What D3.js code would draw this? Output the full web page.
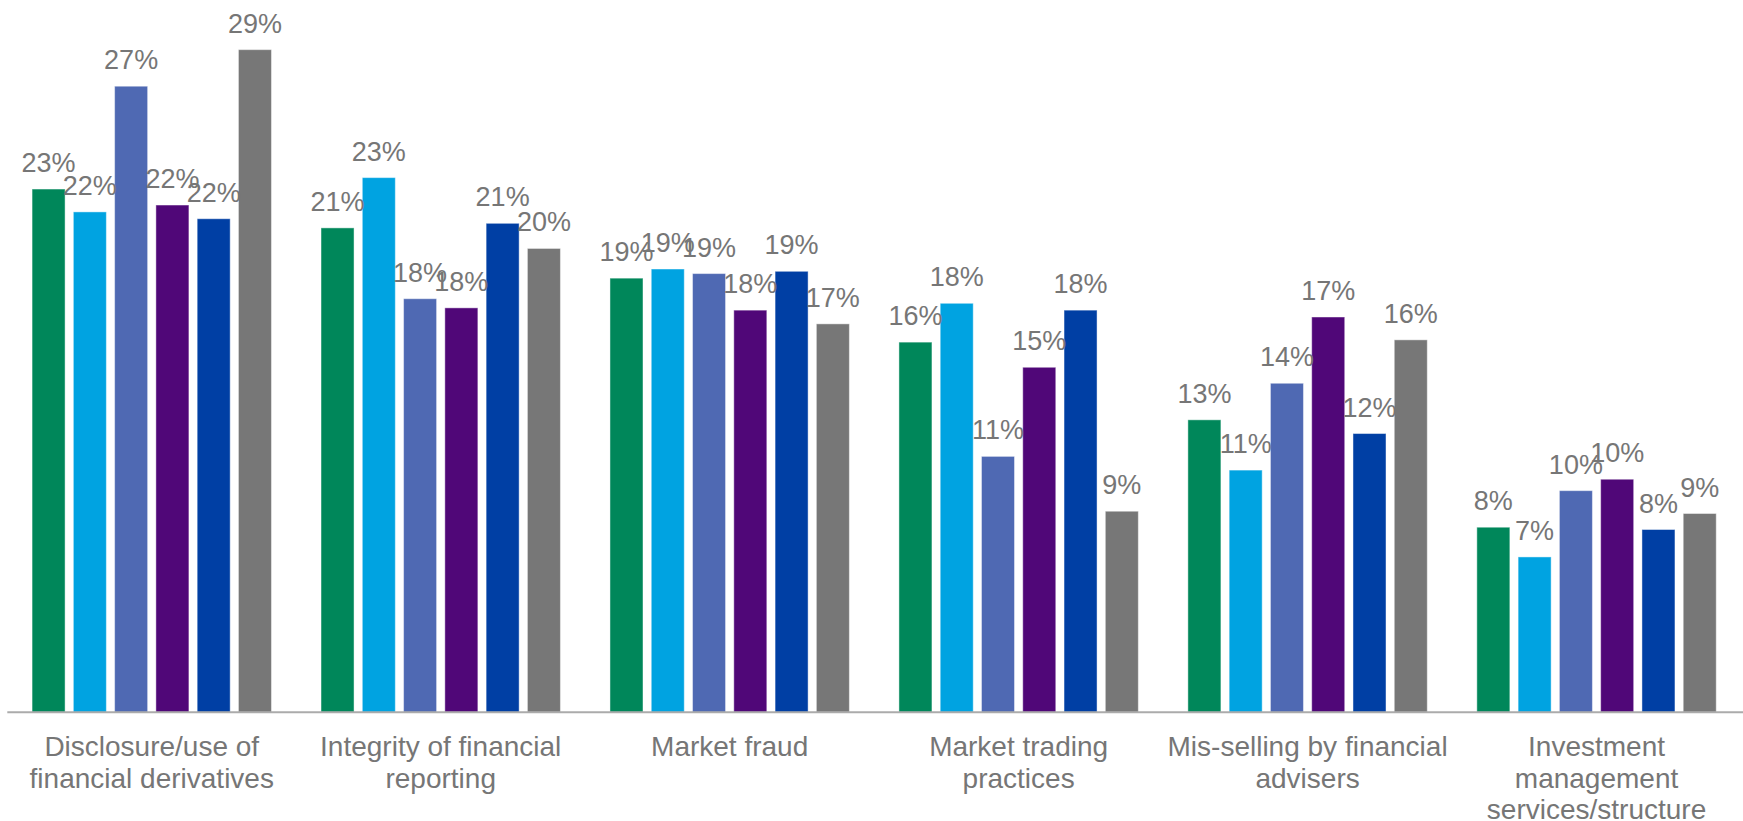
<!DOCTYPE html>
<html>
<head>
<meta charset="utf-8">
<script src="https://cdn.jsdelivr.net/npm/d3@7"></script>
<style>
  html, body { margin: 0; padding: 0; background: #ffffff; }
  svg { display: block; }
  text { font-family: "Liberation Sans", Arial, sans-serif; }
</style>
</head>
<body>
<svg id="chart" width="1743" height="821"></svg>
<script>
// Issue categories (x-axis), each label split into its display lines
const categories = [
  "Disclosure/use of financial derivatives",
  "Integrity of financial reporting",
  "Market fraud",
  "Market trading practices",
  "Mis-selling by financial advisers",
  "Investment management services/structure"
];
const categoryLines = [
  ["Disclosure/use of", "financial derivatives"],
  ["Integrity of financial", "reporting"],
  ["Market fraud"],
  ["Market trading", "practices"],
  ["Mis-selling by financial", "advisers"],
  ["Investment", "management", "services/structure"]
];

// Six respondent groups, one bar each per category (percent of respondents)
const seriesKeys = ["g1", "g2", "g3", "g4", "g5", "g6"];
const seriesColors = ["#00875A", "#00A3E1", "#4F69B3", "#500778", "#003FA4", "#777777"];

const g1 = [22.9, 21.2, 19.0, 16.2, 12.8, 8.1];
const g2 = [21.9, 23.4, 19.4, 17.9, 10.6, 6.8];
const g3 = [27.4, 18.1, 19.2, 11.2, 14.4, 9.7];
const g4 = [22.2, 17.7, 17.6, 15.1, 17.3, 10.2];
const g5 = [21.6, 21.4, 19.3, 17.6, 12.2, 8.0];
const g6 = [29.0, 20.3, 17.0, 8.8, 16.3, 8.7];
const seriesValues = [g1, g2, g3, g4, g5, g6];

const yMax = 30;

const svg = d3.select("#chart");
const W = 1743, H = 821;
const plot = { left: 7.3, right: 1741, top: 26.8, bottom: 712.3 };

const x0 = d3.scaleBand()
  .domain(categories)
  .range([plot.left, plot.right])
  .paddingInner(0.1715)
  .paddingOuter(0.0857);

const x1 = d3.scaleBand()
  .domain(seriesKeys)
  .range([0, x0.bandwidth()])
  .paddingInner(0.2)
  .paddingOuter(0);

const y = d3.scaleLinear().domain([0, yMax]).range([plot.bottom, plot.top]);

const fmt = v => d3.format(".0%")(v / 100);

const rows = categories.map((c, i) => ({
  category: c,
  values: seriesKeys.map((k, j) => ({ key: k, color: seriesColors[j], value: seriesValues[j][i] }))
}));

const groups = svg.append("g")
  .selectAll("g")
  .data(rows)
  .join("g")
  .attr("transform", d => `translate(${x0(d.category)},0)`);

groups.selectAll("rect")
  .data(d => d.values)
  .join("rect")
  .attr("x", d => x1(d.key))
  .attr("y", d => y(d.value))
  .attr("width", x1.bandwidth())
  .attr("height", d => y(0) - y(d.value))
  .attr("fill", d => d.color)
  .attr("stroke", "rgba(255,255,255,0.45)")
  .attr("stroke-width", 1);

groups.selectAll("text.val")
  .data(d => d.values)
  .join("text")
  .attr("class", "val")
  .attr("x", d => x1(d.key) + x1.bandwidth() / 2)
  .attr("y", d => y(d.value) - 17)
  .attr("text-anchor", "middle")
  .attr("fill", "#767676")
  .attr("font-size", 27)
  .text(d => fmt(d.value));

// Baseline axis
svg.append("line")
  .attr("x1", plot.left)
  .attr("x2", W)
  .attr("y1", plot.bottom)
  .attr("y2", plot.bottom)
  .attr("stroke", "#ABABAB")
  .attr("stroke-width", 2);

// Category labels
const catLabels = svg.append("g")
  .selectAll("text")
  .data(categories)
  .join("text")
  .attr("x", d => x0(d) + x0.bandwidth() / 2)
  .attr("y", 756)
  .attr("text-anchor", "middle")
  .attr("fill", "#767676")
  .attr("font-size", 28);

catLabels.each(function(d, i) {
  d3.select(this).selectAll("tspan")
    .data(categoryLines[i])
    .join("tspan")
    .attr("x", x0(d) + x0.bandwidth() / 2)
    .attr("dy", (t, k) => k === 0 ? 0 : 31.5)
    .text(t => t);
});
</script>
</body>
</html>
